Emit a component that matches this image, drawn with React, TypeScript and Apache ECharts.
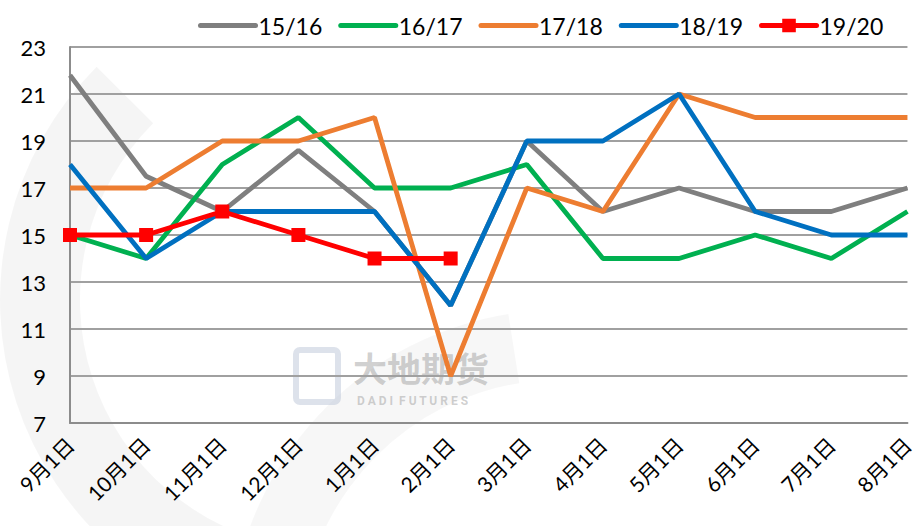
import React, { useEffect, useRef } from "react";
import * as echarts from "echarts";

const categories = ["9月1日", "10月1日", "11月1日", "12月1日", "1月1日", "2月1日", "3月1日", "4月1日", "5月1日", "6月1日", "7月1日", "8月1日"];
const s1516 = [21.8, 17.5, 16, 18.6, 16, 12, 19, 16, 17, 16, 16, 17];
const s1617 = [15, 14, 18, 20, 17, 17, 18, 14, 14, 15, 14, 16];
const s1718 = [17, 17, 19, 19, 20, 9, 17, 16, 21, 20, 20, 20];
const s1819 = [18, 14, 16, 16, 16, 12, 19, 19, 21, 16, 15, 15];
const s1920 = [15, 15, 16, 15, 14, 14];

const FONT = "Lato, 'Noto Sans CJK SC', sans-serif";

export default function App() {
  const ref = useRef<HTMLDivElement>(null);
  useEffect(() => {
    const chart = echarts.init(ref.current!, null, { renderer: "svg" });
    const line = (name: string, data: number[], color: string, z: number) => ({
      name,
      type: "line",
      data,
      symbol: "none",
      z,
      lineStyle: { color, width: 4.8 },
      itemStyle: { color },
    });
    chart.setOption({
      animation: false,
      backgroundColor: "#ffffff",
      textStyle: { fontFamily: FONT },
      graphic: [
        {
          type: "sector",
          silent: true,
          z: -10,
          shape: { cx: 330, cy: 300, r: 330, r0: 250, startAngle: Math.PI * 0.55, endAngle: Math.PI * 1.25 },
          style: { fill: "rgba(0,0,0,0.04)" },
        },
        {
          type: "sector",
          silent: true,
          z: -10,
          shape: { cx: 560, cy: 640, r: 330, r0: 260, startAngle: Math.PI * 1.05, endAngle: Math.PI * 1.45 },
          style: { fill: "rgba(0,0,0,0.03)" },
        },
        {
          type: "rect",
          silent: true,
          z: -5,
          shape: { x: 296, y: 350, width: 42, height: 52, r: 4 },
          style: { fill: "none", stroke: "rgba(180,190,210,0.45)", lineWidth: 6 },
        },
        {
          type: "text",
          silent: true,
          z: -5,
          x: 353,
          y: 350,
          style: { text: "大地期货", fontSize: 34, fontWeight: "bold", fontFamily: "'Noto Sans CJK SC'", lineHeight: 34, verticalAlign: "top", fill: "rgba(150,150,150,0.45)" },
        },
        {
          type: "text",
          silent: true,
          z: -5,
          x: 357,
          y: 394,
          style: { text: "D A D I  F U T U R E S", fontSize: 12, fontWeight: "bold", fontFamily: "Roboto", lineHeight: 13, verticalAlign: "top", fill: "rgba(150,150,150,0.45)" },
        },
      ],
      legend: {
        top: 9,
        left: 193,
        itemWidth: 55,
        itemHeight: 17,
        itemGap: 16,
        lineStyle: { width: 5, cap: "round" },
        textStyle: { fontSize: 23, color: "#000", fontFamily: FONT, padding: [0, 0, 0, -2] },
        data: [
          { name: "15/16", itemStyle: { opacity: 0 } },
          { name: "16/17", itemStyle: { opacity: 0 } },
          { name: "17/18", itemStyle: { opacity: 0 } },
          { name: "18/19", itemStyle: { opacity: 0 } },
          { name: "19/20" },
        ],
      },
      grid: { left: 70, right: 4, top: 47, bottom: 103, containLabel: false },
      xAxis: {
        type: "category",
        data: categories,
        boundaryGap: false,
        axisLine: { lineStyle: { color: "#8c8c8c", width: 2 } },
        axisTick: { show: false },
        axisLabel: { rotate: 45, fontSize: 21, color: "#000", margin: 18, fontFamily: FONT, interval: 0 },
      },
      yAxis: {
        type: "value",
        min: 7,
        max: 23,
        interval: 2,
        axisLine: { show: true, lineStyle: { color: "#8c8c8c", width: 2 } },
        axisTick: { show: false },
        axisLabel: { fontSize: 22, color: "#000", margin: 24, fontFamily: FONT },
        splitLine: { lineStyle: { color: "#a0a0a0", width: 2 } },
      },
      series: [
        line("15/16", s1516, "#7f7f7f", 2),
        line("16/17", s1617, "#00b050", 3),
        line("17/18", s1718, "#ed7d31", 4),
        line("18/19", s1819, "#0070c0", 5),
        {
          name: "19/20",
          type: "line",
          data: s1920,
          z: 6,
          symbol: "rect",
          symbolSize: 14,
          lineStyle: { color: "#ff0000", width: 4.8 },
          itemStyle: { color: "#ff0000" },
        },
      ],
    });
    return () => chart.dispose();
  }, []);
  return <div ref={ref} style={{ position: "fixed", left: 0, top: 0, width: 917, height: 526 }} />;
}
